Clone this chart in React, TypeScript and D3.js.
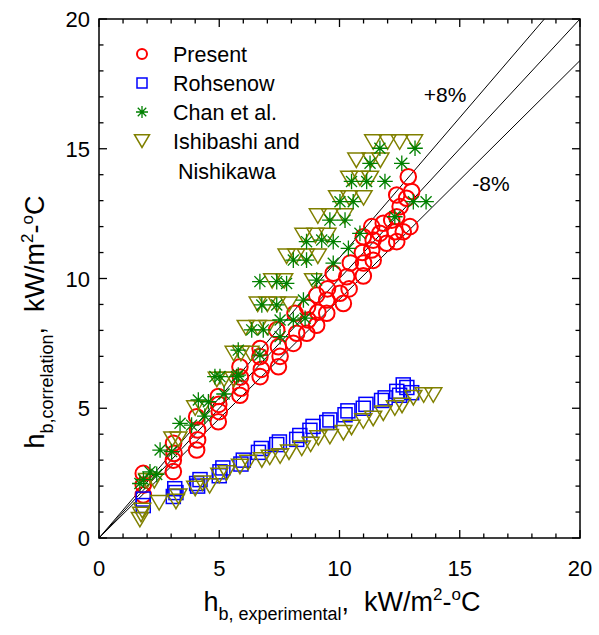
import React from "react";
import * as d3 from "d3";

const W = 599;
const H = 635;

const xTicks = [0, 5, 10, 15, 20];
const yTicks = [0, 5, 10, 15, 20];

const legendLabels = ["Present", "Rohsenow", "Chan et al.", "Ishibashi and"];

// Present (red circles)
const presentX = [
  1.84, 1.84, 1.84,
  3.09, 3.09, 3.12, 3.1,
  4.06, 4.1, 4.1, 4.06,
  4.96, 5.0, 4.98, 4.96,
  5.86, 5.9, 5.88, 5.86,
  6.7, 6.75, 6.69, 6.7,
  7.46, 7.53, 7.46, 7.39,
  8.08, 8.22, 8.15,
  8.64, 8.7, 8.67,
  9.05, 9.1, 9.05,
  9.47, 9.47, 9.5,
  10.16, 10.02, 9.74,
  10.4, 10.3, 10.45,
  10.99, 11.0, 10.95, 10.99,
  11.4, 11.34, 11.4, 11.34,
  11.96, 11.68, 11.82,
  12.38, 12.31, 12.17, 12.38,
  12.65, 12.52, 12.38,
  12.93, 12.79, 13.0, 12.86,
];
const presentY = [
  1.66, 2.04, 2.49,
  2.56, 3.0, 3.26, 3.65,
  3.39, 3.78, 4.16, 4.67,
  4.48, 4.87, 5.15, 5.45,
  5.5, 5.77, 6.2, 6.6,
  6.22, 6.5, 6.99, 7.3,
  6.6, 7.0, 7.37, 8.02,
  7.5, 7.89, 8.66,
  7.89, 8.4, 8.9,
  8.2, 8.7, 9.36,
  8.66, 9.17, 9.6,
  9.04, 9.43, 10.2,
  9.6, 10.07, 10.6,
  10.1, 10.6, 11.0, 11.61,
  10.7, 11.1, 11.48, 12.0,
  11.36, 11.74, 12.13,
  11.42, 11.8, 12.25, 12.38,
  11.8, 12.77, 13.22,
  12.0, 13.09, 13.35, 13.92,
];

// Rohsenow (blue squares)
const rohX = [
  1.84, 1.84, 3.09, 3.2, 3.15, 4.06, 4.2, 4.1, 5.03, 5.15, 5.0, 5.9, 6.0,
  6.63, 6.75, 7.39, 7.5, 8.22, 8.35, 8.77, 8.9, 9.47, 9.6, 10.23, 10.35,
  10.99, 11.1, 11.75, 11.9, 12.38, 12.5, 12.65, 13.0, 12.8,
];
const rohY = [
  1.25, 1.5, 1.6, 1.75, 1.9, 2.1, 2.25, 2.0, 2.55, 2.7, 2.4, 2.85, 3.0,
  3.3, 3.45, 3.6, 3.7, 3.8, 3.95, 4.15, 4.3, 4.45, 4.55, 4.75, 4.9,
  5.0, 5.15, 5.3, 5.4, 5.65, 5.5, 5.9, 5.6, 5.8,
];

// Chan et al. (green asterisks)
const chanX = [
  1.7, 1.85, 2.12, 2.4, 2.54, 3.02, 3.37, 3.85, 4.13, 4.4, 4.55, 4.82, 5.03,
  5.2, 5.72, 5.79, 5.79, 6.69, 6.35, 6.83, 7.53, 7.53, 8.08, 8.57, 7.39,
  6.77, 8.5, 6.69, 7.39, 7.8, 8.08, 8.63, 9.05, 9.74, 8.63, 9.26, 9.74,
  10.37, 10.85, 9.6, 10.23, 10.02, 10.57, 10.5, 11.13, 11.89, 11.27, 12.59,
  11.68, 13.14, 13.07, 13.6, 12.3,
];
const chanY = [
  2.1, 2.25, 2.55, 2.45, 3.39, 3.33, 4.42, 4.35, 5.32, 4.7, 5.25, 6.22, 6.22,
  5.55, 6.22, 6.28, 7.24, 7.05, 8.02, 8.02, 7.76, 8.4, 8.4, 8.47, 8.98,
  8.98, 9.17, 9.88, 9.88, 9.81, 10.71, 10.71, 9.94, 10.59, 11.42, 11.48, 11.42,
  11.16, 11.74, 12.25, 12.25, 12.96, 12.96, 13.74, 13.74, 13.74, 14.44, 14.44,
  15.02, 15.02, 12.96, 12.96, 12.38,
];

// Ishibashi and Nishikawa (olive inverted triangles)
const ishiX = [
  11.4, 12.0, 12.5, 13.1,
  10.7, 11.3, 11.7,
  10.4, 10.85, 11.27,
  9.9, 10.4, 11.0,
  9.1, 9.6, 10.2,
  8.5, 9.0, 9.5,
  7.8, 8.2, 8.6, 9.1,
  7.2, 7.7, 8.9,
  6.6, 7.0, 7.4, 7.9,
  6.1, 6.6, 7.0,
  5.6, 5.9, 6.3,
  4.9, 5.2, 5.6,
  4.0, 4.3,
  3.05, 3.3,
  2.0, 2.3,
  1.7, 1.75, 1.8, 2.5, 3.2, 3.3, 4.0, 4.3, 4.6, 5.0, 5.3, 5.86, 6.2, 6.77,
  7.1, 7.53, 7.9, 8.43, 8.8, 9.12, 9.6, 10.16, 10.5, 10.99, 11.4, 11.82,
  12.3, 12.6, 13.07, 13.5, 13.9,
];
const ishiY = [
  15.35, 15.35, 15.35, 15.35,
  14.65, 14.65, 14.65,
  13.95, 13.95, 13.95,
  13.2, 13.2, 13.2,
  12.5, 12.5, 12.5,
  11.75, 11.75, 11.75,
  10.95, 10.95, 10.95, 10.95,
  10.0, 10.0, 10.0,
  9.1, 9.1, 9.1, 9.1,
  8.2, 8.2, 8.2,
  7.2, 7.2, 7.2,
  6.2, 6.2, 6.2,
  5.1, 5.1,
  3.9, 3.9,
  2.3, 2.3,
  0.8, 1.0, 1.15, 1.45, 1.5, 1.7, 2.0, 2.2, 2.1, 2.5, 2.6, 2.85, 3.0, 3.1,
  3.2, 3.25, 3.4, 3.55, 3.7, 3.95, 4.0, 4.15, 4.35, 4.6, 4.7, 4.9,
  5.1, 5.2, 5.5, 5.6, 5.6,
];

const ratioLines = [1.08, 1.0, 0.92];

const RED = "#ff0000";
const BLUE = "#0000ff";
const GREEN = "#008000";
const OLIVE = "#808000";
const FONT = "'Liberation Sans', Arial, sans-serif";

const x = d3.scaleLinear().domain([0, 20]).range([99, 580]);
const y = d3.scaleLinear().domain([0, 20]).range([538, 19]);

function Circle({ cx, cy, r = 7.8 }: { cx: number; cy: number; r?: number }) {
  return <circle cx={cx} cy={cy} r={r} fill="none" stroke={RED} strokeWidth={2} />;
}
function Square({ cx, cy, s = 14 }: { cx: number; cy: number; s?: number }) {
  return <rect x={cx - s / 2} y={cy - s / 2} width={s} height={s} fill="none" stroke={BLUE} strokeWidth={1.5} />;
}
function Star({ cx, cy, r = 7.8 }: { cx: number; cy: number; r?: number }) {
  const d = r * Math.SQRT1_2;
  return (
    <path
      d={`M${cx - r},${cy}H${cx + r}M${cx},${cy - r}V${cy + r}M${cx - d},${cy - d}L${cx + d},${cy + d}M${cx - d},${cy + d}L${cx + d},${cy - d}`}
      stroke={GREEN}
      strokeWidth={1.3}
      fill="none"
    />
  );
}
function Tri({ cx, cy, w = 17 }: { cx: number; cy: number; w?: number }) {
  const h = w * 0.85;
  return (
    <path
      d={`M${cx - w / 2},${cy - h / 3}H${cx + w / 2}L${cx},${cy + (2 * h) / 3}Z`}
      stroke={OLIVE}
      strokeWidth={1.5}
      fill="none"
    />
  );
}

export default function App() {
  const minor = d3.range(0, 21, 1);
  const [x0, x1] = x.range();
  const [y0, y1] = y.range();
  const line = d3
    .line<[number, number]>()
    .x((d) => x(d[0]))
    .y((d) => y(d[1]));

  return (
    <svg
      width={W}
      height={H}
      style={{ position: "absolute", left: 0, top: 0, background: "#fff" }}
      fontFamily={FONT}
    >
      <defs>
        <clipPath id="plotclip">
          <rect x={x0} y={y1} width={x1 - x0} height={y0 - y1} />
        </clipPath>
      </defs>

      <g clipPath="url(#plotclip)">
        {ratioLines.map((k) => (
          <path
            key={k}
            d={line([
              [0, 0],
              [20, 20 * k],
            ])!}
            stroke="#000"
            strokeWidth={1}
            fill="none"
          />
        ))}
      </g>

      <g>
        {presentX.map((v, i) => (
          <Circle key={"p" + i} cx={x(v)} cy={y(presentY[i])} />
        ))}
        {rohX.map((v, i) => (
          <Square key={"r" + i} cx={x(v)} cy={y(rohY[i])} />
        ))}
        {ishiX.map((v, i) => (
          <Tri key={"t" + i} cx={x(v)} cy={y(ishiY[i])} />
        ))}
        {chanX.map((v, i) => (
          <Star key={"c" + i} cx={x(v)} cy={y(chanY[i])} />
        ))}
      </g>

      <rect x={x0} y={y1} width={x1 - x0} height={y0 - y1} fill="none" stroke="#000" strokeWidth={1.5} />

      {minor.map((t) => {
        const major = t % 5 === 0;
        const len = major ? 8 : 4.5;
        return (
          <g key={"tk" + t} stroke="#000" strokeWidth={1.3}>
            <line x1={x(t)} x2={x(t)} y1={y0} y2={y0 - len} />
            <line x1={x(t)} x2={x(t)} y1={y1} y2={y1 + len} />
            <line x1={x0} x2={x0 + len} y1={y(t)} y2={y(t)} />
            <line x1={x1} x2={x1 - len} y1={y(t)} y2={y(t)} />
          </g>
        );
      })}

      {xTicks.map((t) => (
        <text key={"xl" + t} x={x(t)} y={576} textAnchor="middle" fontSize={22}>
          {t}
        </text>
      ))}
      {yTicks.map((t) => (
        <text key={"yl" + t} x={90} y={y(t) + 8} textAnchor="end" fontSize={22}>
          {t}
        </text>
      ))}

      <text x={445} y={102} textAnchor="middle" fontSize={21}>+8%</text>
      <text x={491} y={191} textAnchor="middle" fontSize={21}>-8%</text>

      <Circle cx={142} cy={54} r={5} />
      <Square cx={142} cy={83} s={10} />
      <Star cx={142} cy={112} r={6} />
      <Tri cx={142} cy={139} w={15} />
      {legendLabels.map((s, i) => (
        <text key={s} x={173} y={54 + i * 29 + 8} fontSize={21.5}>
          {s}
        </text>
      ))}
      <text x={178} y={179} fontSize={21.5}>Nishikawa</text>

      <text x={342} y={611} textAnchor="middle" fontSize={27}>
        h
        <tspan fontSize={18} dy={9}>b, experimental</tspan>
        <tspan dy={-9}>{",\u00a0\u00a0kW/m"}</tspan>
        <tspan fontSize={17} dy={-11}>2</tspan>
        <tspan dy={11}>-</tspan>
        <tspan fontSize={17} dy={-11}>o</tspan>
        <tspan dy={11}>C</tspan>
      </text>

      <text transform="translate(44,322) rotate(-90)" textAnchor="middle" fontSize={27}>
        h
        <tspan fontSize={18} dy={9}>b,correlation</tspan>
        <tspan dy={-9}>{",\u00a0\u00a0kW/m"}</tspan>
        <tspan fontSize={17} dy={-11}>2</tspan>
        <tspan dy={11}>-</tspan>
        <tspan fontSize={17} dy={-11}>o</tspan>
        <tspan dy={11}>C</tspan>
      </text>
    </svg>
  );
}
